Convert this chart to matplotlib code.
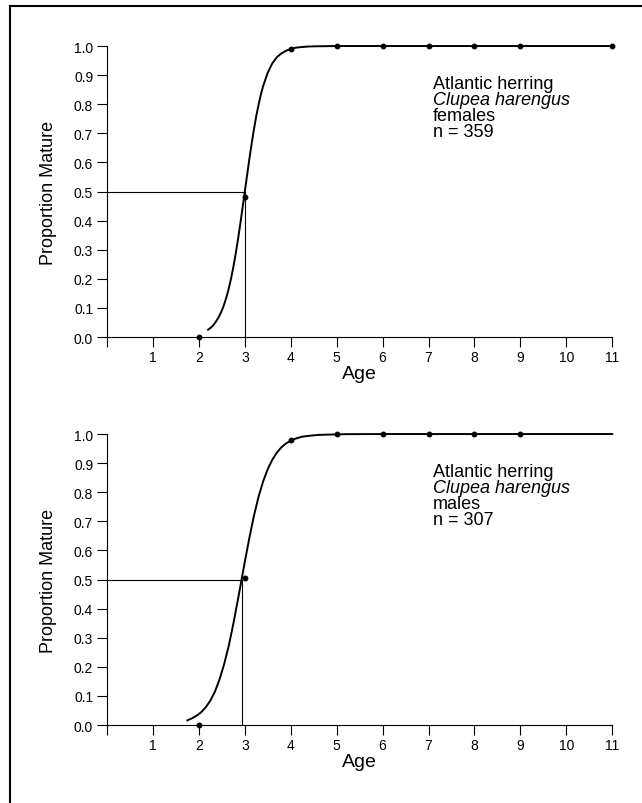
import matplotlib
matplotlib.use("Agg")
import matplotlib.pyplot as plt
from matplotlib.lines import Line2D

plt.rcParams['font.family'] = ['Liberation Sans', 'DejaVu Sans']

# observed proportions mature by age
ages_f = [2, 3, 4, 5, 6, 7, 8, 9, 11]
mature_f = [0.0, 0.48, 0.99, 1.0, 1.0, 1.0, 1.0, 1.0, 1.0]
ages_m = [2, 3, 4, 5, 6, 7, 8, 9]
mature_m = [0.0, 0.505, 0.98, 1.0, 1.0, 1.0, 1.0, 1.0]

# fitted ogive
curve_age_f = [2.2, 2.25, 2.3, 2.35, 2.4, 2.45, 2.5, 2.55, 2.6, 2.65, 2.7, 2.75,
               2.8, 2.85, 2.9, 2.95, 3.0, 3.05, 3.1, 3.15, 3.2, 3.25, 3.3, 3.35,
               3.4, 3.5, 3.6, 3.7, 3.8, 3.9, 4.0, 4.1, 4.2, 4.35, 4.5, 4.75, 5, 11]
curve_p_f = [0.025, 0.031, 0.038, 0.048, 0.060, 0.074, 0.091, 0.112, 0.137, 0.166,
             0.201, 0.240, 0.285, 0.334, 0.387, 0.443, 0.5, 0.557, 0.613, 0.666,
             0.715, 0.760, 0.799, 0.834, 0.863, 0.909, 0.941, 0.962, 0.975, 0.984,
             0.990, 0.994, 0.996, 0.998, 0.999, 0.9995, 1.0, 1.0]
curve_age_m = [1.75, 1.85, 1.95, 2.05, 2.15, 2.25, 2.35, 2.45, 2.55, 2.65, 2.75,
               2.85, 2.93, 3.0, 3.1, 3.2, 3.3, 3.4, 3.5, 3.6, 3.7, 3.8, 3.9, 4.0,
               4.1, 4.25, 4.4, 4.6, 4.8, 5.2, 6, 11]
curve_p_m = [0.016, 0.023, 0.032, 0.044, 0.061, 0.084, 0.115, 0.157, 0.209, 0.272,
             0.348, 0.431, 0.5, 0.561, 0.644, 0.720, 0.785, 0.838, 0.880, 0.912,
             0.937, 0.955, 0.968, 0.977, 0.984, 0.991, 0.994, 0.997, 0.998, 0.9996,
             1.0, 1.0]

a50 = [3.0, 2.93]
labels = [["Atlantic herring", "Clupea harengus", "females", "n = 359"],
          ["Atlantic herring", "Clupea harengus", "males", "n = 307"]]

fig = plt.figure(figsize=(6.42, 8.04), dpi=100)
ax1 = fig.add_axes([0.1667, 0.5796, 0.787, 0.3619])
ax2 = fig.add_axes([0.1667, 0.0970, 0.787, 0.3619])

panels = [(ax1, ages_f, mature_f, curve_age_f, curve_p_f),
          (ax2, ages_m, mature_m, curve_age_m, curve_p_m)]

for i, (ax, xa, ya, cx, cy) in enumerate(panels):
    ax.plot(cx, cy, color='black', lw=1.4, clip_on=False, zorder=3,
            solid_joinstyle='round')
    ax.plot(xa, ya, 'o', color='black', ms=3.2, clip_on=False, zorder=4)
    ax.plot([0, a50[i]], [0.5, 0.5], color='black', lw=0.8)
    ax.plot([a50[i], a50[i]], [0, 0.5], color='black', lw=0.8)

    ax.set_xlim(0, 11)
    ax.set_ylim(0, 1.0)
    ax.set_xticks(range(0, 12))
    ax.set_xticklabels([''] + [str(k) for k in range(1, 12)])
    ax.set_yticks([k / 10 for k in range(11)])
    ax.set_yticklabels(['%.1f' % (k / 10) for k in range(11)])
    ax.tick_params(direction='out', length=7, width=0.8, labelsize=10, pad=3)
    ax.tick_params(axis='x', pad=2)
    for s in ['top', 'right']:
        ax.spines[s].set_visible(False)
    for s in ['left', 'bottom']:
        ax.spines[s].set_linewidth(0.8)
    ax.set_xlabel('Age', fontsize=14, labelpad=1)
    ax.set_ylabel('Proportion Mature', fontsize=13, labelpad=12)

    ys = [0.870, 0.815, 0.760, 0.705]
    for j, t in enumerate(labels[i]):
        ax.text(7.1, ys[j], t, fontsize=13, va='center', ha='left',
                style='italic' if j == 1 else 'normal')

# border of the page
fig.add_artist(Line2D([10 / 642, 1.0], [1 - 7 / 804, 1 - 7 / 804],
                      transform=fig.transFigure, color='black', lw=1.5))
fig.add_artist(Line2D([10 / 642, 10 / 642], [0.0, 1 - 7 / 804],
                      transform=fig.transFigure, color='black', lw=1.5))

fig.savefig('out.png', dpi=100)
